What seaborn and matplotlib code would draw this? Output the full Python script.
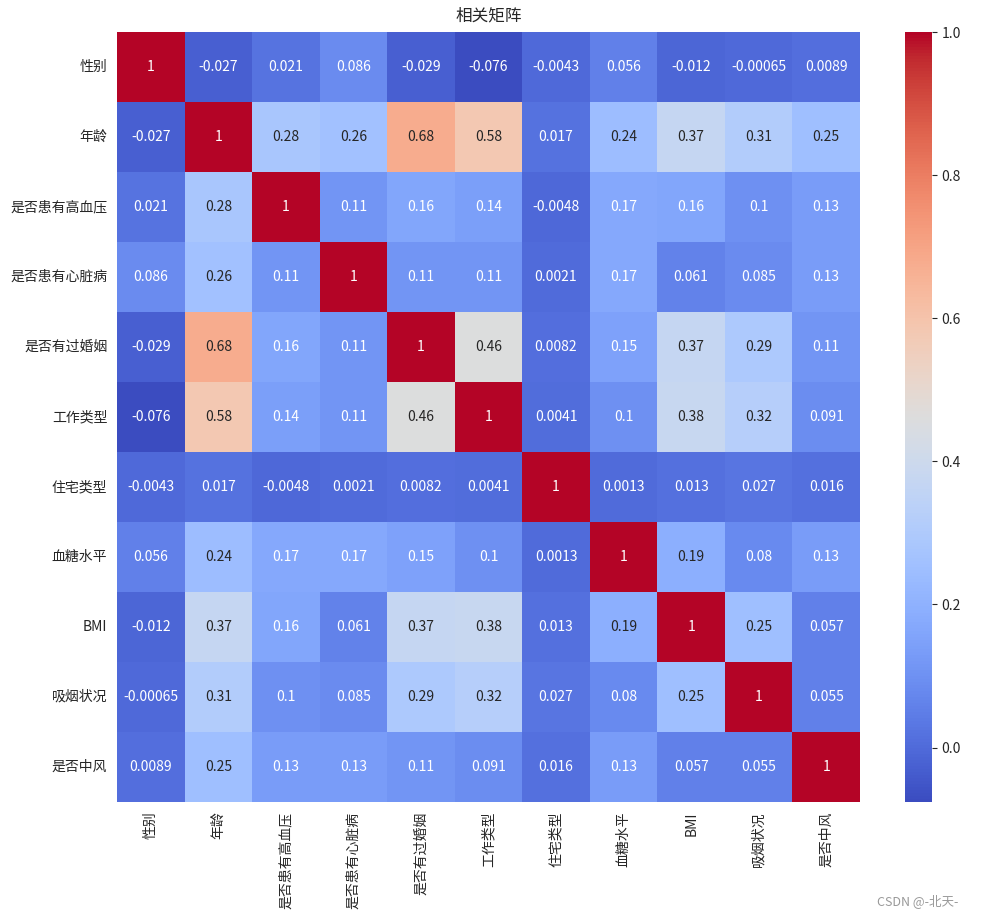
import numpy as np
import pandas as pd
import matplotlib
matplotlib.use("Agg")
import matplotlib.pyplot as plt
import seaborn as sns

sns.set_style("white")
plt.rcParams['font.family'] = ['Noto Sans CJK SC', 'DejaVu Sans']
plt.rcParams['axes.unicode_minus'] = True

labels = ["性别", "年龄", "是否患有高血压", "是否患有心脏病", "是否有过婚姻",
          "工作类型", "住宅类型", "血糖水平", "BMI", "吸烟状况", "是否中风"]

row_gender = [1, -0.027, 0.021, 0.086, -0.029, -0.076, -0.0043, 0.056, -0.012, -0.00065, 0.0089]
row_age = [-0.027, 1, 0.28, 0.26, 0.68, 0.58, 0.017, 0.24, 0.37, 0.31, 0.25]
row_hyper = [0.021, 0.28, 1, 0.11, 0.16, 0.14, -0.0048, 0.17, 0.16, 0.1, 0.13]
row_heart = [0.086, 0.26, 0.11, 1, 0.11, 0.11, 0.0021, 0.17, 0.061, 0.085, 0.13]
row_married = [-0.029, 0.68, 0.16, 0.11, 1, 0.46, 0.0082, 0.15, 0.37, 0.29, 0.11]
row_work = [-0.076, 0.58, 0.14, 0.11, 0.46, 1, 0.0041, 0.1, 0.38, 0.32, 0.091]
row_residence = [-0.0043, 0.017, -0.0048, 0.0021, 0.0082, 0.0041, 1, 0.0013, 0.013, 0.027, 0.016]
row_glucose = [0.056, 0.24, 0.17, 0.17, 0.15, 0.1, 0.0013, 1, 0.19, 0.08, 0.13]
row_bmi = [-0.012, 0.37, 0.16, 0.061, 0.37, 0.38, 0.013, 0.19, 1, 0.25, 0.057]
row_smoke = [-0.00065, 0.31, 0.1, 0.085, 0.29, 0.32, 0.027, 0.08, 0.25, 1, 0.055]
row_stroke = [0.0089, 0.25, 0.13, 0.13, 0.11, 0.091, 0.016, 0.13, 0.057, 0.055, 1]

corr = pd.DataFrame([row_gender, row_age, row_hyper, row_heart, row_married, row_work,
                     row_residence, row_glucose, row_bmi, row_smoke, row_stroke],
                    index=labels, columns=labels)

fig = plt.figure(figsize=(9.86, 9.19), dpi=100)
ax = fig.add_axes([117 / 986, 1 - 802 / 919, 743 / 986, 770 / 919])
cax = fig.add_axes([905 / 986, 1 - 802 / 919, 27 / 986, 770 / 919])

sns.heatmap(corr, annot=True, cmap="coolwarm", ax=ax, cbar_ax=cax,
            annot_kws={"fontsize": 10})
ax.set_title("相关矩阵", fontsize=12, pad=8)
ax.tick_params(axis="both", labelsize=10)
plt.setp(ax.get_xticklabels(), rotation=90)
plt.setp(ax.get_yticklabels(), rotation=0)
cax.tick_params(labelsize=10)

fig.text(0.972, 0.012, "CSDN @-北天-", ha="right", va="bottom", fontsize=9, color="#999999")

fig.savefig("out.png", dpi=100)
